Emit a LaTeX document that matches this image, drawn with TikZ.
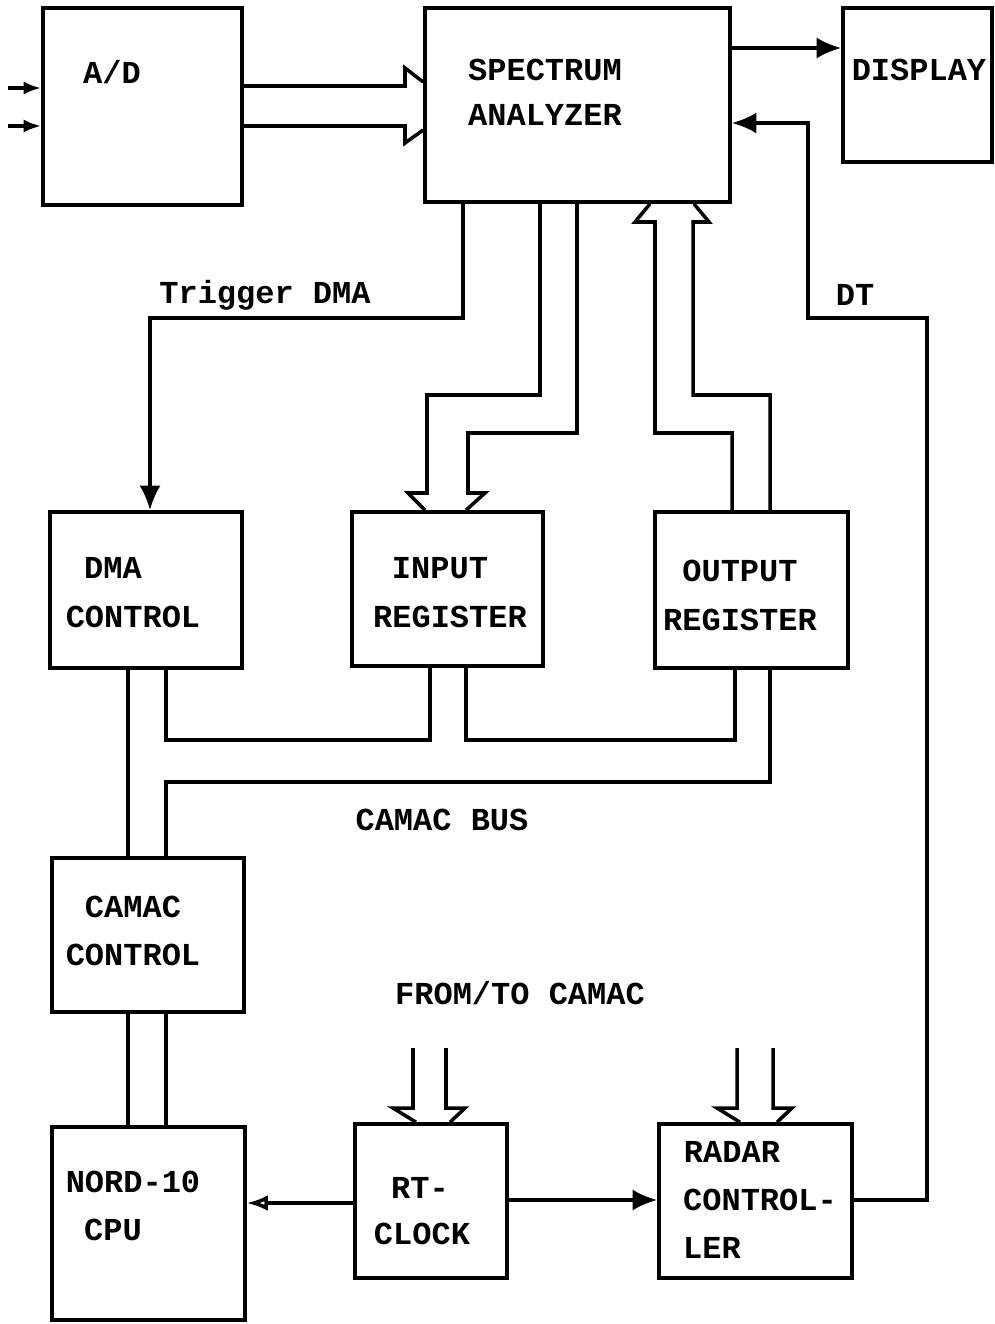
\documentclass[tikz,border=0pt]{standalone}
\usepackage{fontspec}
\setmonofont{Liberation Mono}
\usepackage{tikz}
\usetikzlibrary{arrows.meta,positioning}

\begin{document}
\begin{tikzpicture}[x=0.01cm,y=-0.01cm,
  blk/.style={draw,line width=1pt,inner sep=0pt},
  ln/.style={line width=1pt},
  lbl/.style={font=\ttfamily\bfseries\fontsize{9.1}{11}\selectfont,inner sep=0pt}]
\useasboundingbox (0,0) rectangle (995,1324);
% blocks
\node[blk,minimum width=1.99cm,minimum height=1.97cm] (ad) at (142.5,106.5) {};
\node[blk,minimum width=3.05cm,minimum height=1.94cm] (spec) at (577.5,105) {};
\node[blk,minimum width=1.49cm,minimum height=1.54cm] (disp) at (917.5,85) {};
\node[blk,minimum width=1.92cm,minimum height=1.56cm] (dma) at (146,590) {};
\node[blk,minimum width=1.91cm,minimum height=1.54cm] (inreg) at (447.5,589) {};
\node[blk,minimum width=1.93cm,minimum height=1.56cm] (outreg) at (751.5,590) {};
\node[blk,minimum width=1.92cm,minimum height=1.54cm] (camac) at (148,935) {};
\node[blk,minimum width=1.93cm,minimum height=1.93cm] (nord) at (148.5,1223.5) {};
\node[blk,minimum width=1.52cm,minimum height=1.54cm] (rtc) at (431,1201) {};
\node[blk,minimum width=1.93cm,minimum height=1.54cm] (radar) at (755.5,1201) {};
% texts
\foreach \x/\y/\t/\n in {
    112/72/A\slash D/tad,
    545/70/SPECTRUM/tspec1, 545/115/ANALYZER/tspec2,
    919/70/DISPLAY/tdisp,
    113/568/DMA/tdma1, 133/617/CONTROL/tdma2,
    440/568/INPUT/tin1, 450/617/REGISTER/tin2,
    740/571/OUTPUT/tout1, 740/620/REGISTER/tout2,
    133/907/CAMAC/tcam1, 133/955/CONTROL/tcam2,
    133/1182/NORD-10/tnord1, 113/1230/CPU/tnord2,
    420/1188/RT-/trtc1, 422/1234/CLOCK/trtc2,
    732/1152/RADAR/trad1, 760/1200/CONTROL-/trad2, 712/1248/LER/trad3,
    265/295/Trigger DMA/ttrig, 855/295/DT/tdt,
    442/820/CAMAC BUS/tbus, 520/993/FROM\slash TO CAMAC/tfrom} {
    \node[lbl] (\n) at (\x,\y) {\t};
}
% inputs to A/D
\coordinate (in1) at (8,88);
\coordinate (in2) at (8,126);
\draw[ln,-{Latex[length=5pt]}] (in1) -- (ad.west |- in1);
\draw[ln,-{Latex[length=5pt]}] (in2) -- (ad.west |- in2);
% A/D to analyzer (bus)
\draw[ln] (ad.east |- 0,86) -- (405,86) -- (405,68) -- (spec.west |- 0,82);
\draw[ln] (ad.east |- 0,126) -- (405,126) -- (405,143) -- (spec.west |- 0,130);
% analyzer to display
\draw[ln,-{Latex[length=7pt,width=6pt]}] (spec.east |- 0,48) -- (disp.west |- 0,48);
% DT
\draw[ln,-{Latex[length=7pt,width=6pt]}] (radar.east |- 0,1200) -- (927,1200) -- (927,318)
    -- (808,318) -- (808,123) -- (spec.east |- 0,123);
% Trigger DMA
\draw[ln,-{Latex[length=7pt,width=6pt]}] (spec.south -| 463,0) -- (463,318) -- (150,318)
    -- (dma.north -| 150,0);
% analyzer to input register (bus)
\draw[ln] (spec.south -| 540,0) -- (540,395) -- (427,395) -- (427,493) -- (408,493)
    -- (inreg.north -| 425,0);
\draw[ln] (spec.south -| 577,0) -- (577,433) -- (468,433) -- (468,493) -- (485,493)
    -- (inreg.north -| 466,0);
% output register to analyzer (bus)
\draw[ln] (outreg.north -| 732,0) -- (732,433) -- (655,433) -- (655,222) -- (635,222)
    -- (spec.south -| 650,0);
\draw[ln] (outreg.north -| 770,0) -- (770,395) -- (693,395) -- (693,222) -- (709,222)
    -- (spec.south -| 694,0);
% CAMAC bus
\draw[ln] (dma.south -| 128,0) -- (camac.north -| 128,0);
\draw[ln] (dma.south -| 166,0) -- (166,740) -- (430,740) -- (inreg.south -| 430,0);
\draw[ln] (inreg.south -| 466,0) -- (466,740) -- (735,740) -- (outreg.south -| 735,0);
\draw[ln] (outreg.south -| 770,0) -- (770,782) -- (166,782) -- (camac.north -| 166,0);
\draw[ln] (camac.south -| 128,0) -- (nord.north -| 128,0);
\draw[ln] (camac.south -| 166,0) -- (nord.north -| 166,0);
% clock
\draw[ln,-{Latex[open,length=6pt]}] (rtc.west |- 0,1203) -- (nord.east |- 0,1203);
\draw[ln,-{Latex[length=7pt,width=6pt]}] (rtc.east |- 0,1200) -- (radar.west |- 0,1200);
% from/to CAMAC (bus)
\foreach \a/\b/\n in {413/446/rtc, 737/773/radar} {
    \draw[ln] (\a,1048) -- (\a,1108) -- (\a-20,1108) -- (\n.north -| \a+3,0);
    \draw[ln] (\b,1048) -- (\b,1108) -- (\b+19,1108) -- (\n.north -| \b+4,0);
}
\end{tikzpicture}
\end{document}
